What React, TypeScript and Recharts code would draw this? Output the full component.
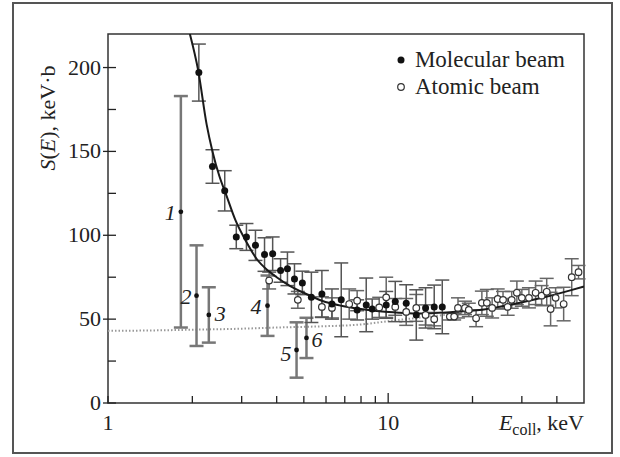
import React from "react";
import {
    ComposedChart,
    ErrorBar,
    Line,
    ReferenceArea,
    Scatter,
    XAxis,
    YAxis,
} from "recharts";

// molecular beam (filled circles)
const molE = [2.11, 2.36, 2.61, 2.87, 3.12, 3.36, 3.62, 3.87, 4.13, 4.37, 4.63, 4.94, 5.32, 5.8, 6.3, 6.8, 7.75, 8.35, 8.77, 9.84, 10.6, 11.6, 12.6, 13.6, 14.6, 15.6];
const molS = [197, 141, 126.5, 99, 99, 94, 88.5, 89, 79, 80, 74, 71.6, 63, 65, 59, 61.5, 55.5, 58.5, 56, 58.5, 60.5, 59.5, 52.5, 56.7, 57.3, 57.3];
const molErr = [17, 10, 12, 7, 8, 9, 10, 10, 7, 10, 9, 7, 15, 14, 9, 22, 6, 16, 6, 8, 12, 11, 15, 12, 13, 16];

// atomic beam (open circles)
const atoE = [3.76, 4.76, 5.8, 6.3, 7.26, 7.75, 9.29, 9.84, 10.6, 11.6, 12.6, 13.6, 14.6, 16.6, 17.2, 17.75, 18.8, 19.4, 20.6, 21.6, 22.5, 23.5, 24.6, 25.7, 26.7, 27.6, 28.8, 30.0, 31.8, 33.6, 35.3, 36.8, 38.0, 39.6, 42.3, 45.2, 47.8];
const atoS = [73, 61.5, 57.3, 56.7, 59, 61, 57, 63, 57.3, 54.3, 56.7, 52.5, 50, 51.5, 51.5, 56.7, 56.7, 55.5, 50.5, 59.7, 59.7, 56.7, 62, 61.5, 57.3, 61.5, 65.7, 62.7, 62.7, 65.7, 64, 66.3, 56, 62.7, 59, 75, 78];
const atoErr = [5, 5, 6, 6, 9, 6, 6, 12, 5, 8, 8, 6, 4, 2, 2, 6, 4, 4, 5, 7, 8, 6, 6, 5, 5, 5, 7, 5, 6, 7, 6, 8, 10, 6, 10, 11, 4];

// earlier measurements, numbered 1-6
const refLabel = ["1", "2", "3", "4", "5", "6"];
const refE = [1.82, 2.07, 2.29, 3.71, 4.71, 5.11];
const refS = [114, 64, 52.5, 58, 31.6, 38.8];
const refErr = [69, 30, 16.5, 18, 16.5, 12];

// fitted curve (solid) and bare S-factor (dotted)
const fitE = [1.96, 2.1, 2.25, 2.36, 2.5, 2.63, 2.85, 3.12, 3.39, 3.72, 4.0, 4.44, 5.1, 5.8, 6.8, 8, 9.5, 11, 13, 17, 22, 29, 36, 45, 50];
const fitS = [220, 198, 166, 150, 135, 125, 109, 96, 86, 79, 75, 70, 65, 61, 58, 56, 54.5, 53.8, 53.3, 54.3, 55.8, 59.5, 63, 67.3, 69.5];
const bareE = [1, 1.5, 2, 3, 4, 5, 6, 7, 8, 9, 10, 12, 14, 16, 18, 20];
const bareS = [43, 43.3, 43.7, 44.3, 45, 45.4, 45.8, 46.2, 46.8, 47.8, 48.8, 50.3, 51.5, 52.6, 53.6, 54.5];

const xTicks = [1, 2, 3, 4, 5, 6, 7, 8, 9, 10, 20, 30, 40];
const xLabels = [1, 10];
const yTicks = [0, 25, 50, 75, 100, 125, 150, 175, 200];

const FONT = "'Liberation Serif', 'Times New Roman', serif";
const INK = "#222";

// label placement relative to the point: [dx, dy, anchor]
const labelPos: Record<string, [number, number, string]> = {
    "1": [-5, 8, "end"],
    "2": [-5, 8, "end"],
    "3": [6, 6, "start"],
    "4": [-6, 8, "end"],
    "5": [-5, 11, "end"],
    "6": [5, 9, "start"],
};

const molecular = molE.map((e, i) => ({ e, s: molS[i], err: molErr[i] }));
const atomic = atoE.map((e, i) => ({ e, s: atoS[i], err: atoErr[i] }));
const numbered = refE.map((e, i) => ({ e, s: refS[i], err: refErr[i], label: refLabel[i] }));
const fit = fitE.map((e, i) => ({ e, s: fitS[i] }));
const bare = bareE.map((e, i) => ({ e, s: bareS[i] }));

function YTick({ x, y, payload }: any) {
    const major = payload.value % 50 === 0;
    return (
        <g>
            <line x1={major ? x - 5 : x} x2={x + 8} y1={y} y2={y} stroke={INK} strokeWidth={1.3} />
            {major && (
                <text x={x - 7} y={y + 7} textAnchor="end" fontFamily={FONT} fontSize={22} fill={INK}>
                    {payload.value}
                </text>
            )}
        </g>
    );
}

function XTick({ x, y, payload }: any) {
    const v = payload.value;
    return (
        <g>
            <line x1={x} x2={x} y1={y} y2={y - (v === 10 ? 10 : 7)} stroke={INK} strokeWidth={1.3} />
            {xLabels.includes(v) && (
                <text x={x} y={y + 27} textAnchor="middle" fontFamily={FONT} fontSize={22} fill={INK}>
                    {v}
                </text>
            )}
        </g>
    );
}

const filledDot = ({ cx, cy }: any) => <circle cx={cx} cy={cy} r={3.5} fill="#111" />;
const openDot = ({ cx, cy }: any) => (
    <circle cx={cx} cy={cy} r={3.3} fill="#fff" stroke="#333" strokeWidth={1.2} />
);
const numberedDot = ({ cx, cy, payload }: any) => {
    const [dx, dy, anchor] = labelPos[payload.label];
    return (
        <g>
            <circle cx={cx} cy={cy} r={2.4} fill="#111" />
            <text
                x={cx + dx}
                y={cy + dy}
                textAnchor={anchor as any}
                fontFamily={FONT}
                fontStyle="italic"
                fontSize={22}
                fill={INK}
            >
                {payload.label}
            </text>
        </g>
    );
};

export default function App() {
    return (
        <div style={{ position: "absolute", left: 0, top: 0, width: 620, height: 457, background: "#fff" }}>
            <div
                style={{
                    position: "absolute",
                    left: 12,
                    top: 2,
                    width: 601,
                    height: 452,
                    border: "2px solid #555",
                    boxSizing: "border-box",
                }}
            />
            <ComposedChart
                width={620}
                height={457}
                margin={{ top: 34, right: 36, bottom: 24, left: 0 }}
                style={{ position: "absolute", left: 0, top: 0 }}
            >
                <XAxis
                    dataKey="e"
                    type="number"
                    scale="log"
                    domain={[1, 50]}
                    allowDataOverflow
                    ticks={xTicks}
                    interval={0}
                    tickSize={0}
                    tickMargin={0}
                    axisLine={false}
                    tick={(p: any) => <XTick {...p} />}
                    height={30}
                />
                <YAxis
                    dataKey="s"
                    type="number"
                    domain={[0, 220]}
                    allowDataOverflow
                    ticks={yTicks}
                    interval={0}
                    tickSize={0}
                    tickMargin={0}
                    axisLine={false}
                    tick={(p: any) => <YTick {...p} />}
                    width={108}
                />
                <Line
                    data={bare}
                    dataKey="s"
                    type="monotone"
                    stroke="#999"
                    strokeWidth={2}
                    strokeDasharray="1.5 2"
                    dot={false}
                    isAnimationActive={false}
                />
                <Scatter data={numbered} shape={numberedDot} isAnimationActive={false}>
                    <ErrorBar dataKey="err" direction="y" width={7} stroke="#777" strokeWidth={2.5} />
                </Scatter>
                <Scatter data={atomic} shape={openDot} isAnimationActive={false}>
                    <ErrorBar dataKey="err" direction="y" width={7} stroke="#666" strokeWidth={1.5} />
                </Scatter>
                <Scatter data={molecular} shape={filledDot} isAnimationActive={false}>
                    <ErrorBar dataKey="err" direction="y" width={7} stroke="#555" strokeWidth={1.5} />
                </Scatter>
                <Line
                    data={fit}
                    dataKey="s"
                    type="monotone"
                    stroke="#1a1a1a"
                    strokeWidth={2}
                    dot={false}
                    isAnimationActive={false}
                />
                <ReferenceArea
                    x1={1}
                    x2={50}
                    y1={0}
                    y2={220}
                    fill="none"
                    stroke="#333"
                    strokeWidth={1.5}
                    fillOpacity={0}
                    ifOverflow="visible"
                />
            </ComposedChart>
            <svg
                width={620}
                height={457}
                style={{ position: "absolute", left: 0, top: 0, pointerEvents: "none" }}
                fontFamily={FONT}
                fill={INK}
            >
                <circle cx={401} cy={60} r={3.5} fill="#111" />
                <text x={565} y={67} fontSize={23} textAnchor="end">Molecular beam</text>
                <circle cx={401} cy={87} r={3.3} fill="#fff" stroke="#333" strokeWidth={1.2} />
                <text x={415} y={94} fontSize={23}>Atomic beam</text>
                <text transform="translate(55,118) rotate(-90)" textAnchor="middle" fontSize={22}>
                    <tspan fontStyle="italic">S</tspan>(<tspan fontStyle="italic">E</tspan>), keV·b
                </text>
                <text x={584} y={430} textAnchor="end" fontSize={22}>
                    <tspan fontStyle="italic">E</tspan>
                    <tspan fontSize={16} dy={5}>coll</tspan>
                    <tspan dy={-5}>, keV</tspan>
                </text>
            </svg>
        </div>
    );
}
